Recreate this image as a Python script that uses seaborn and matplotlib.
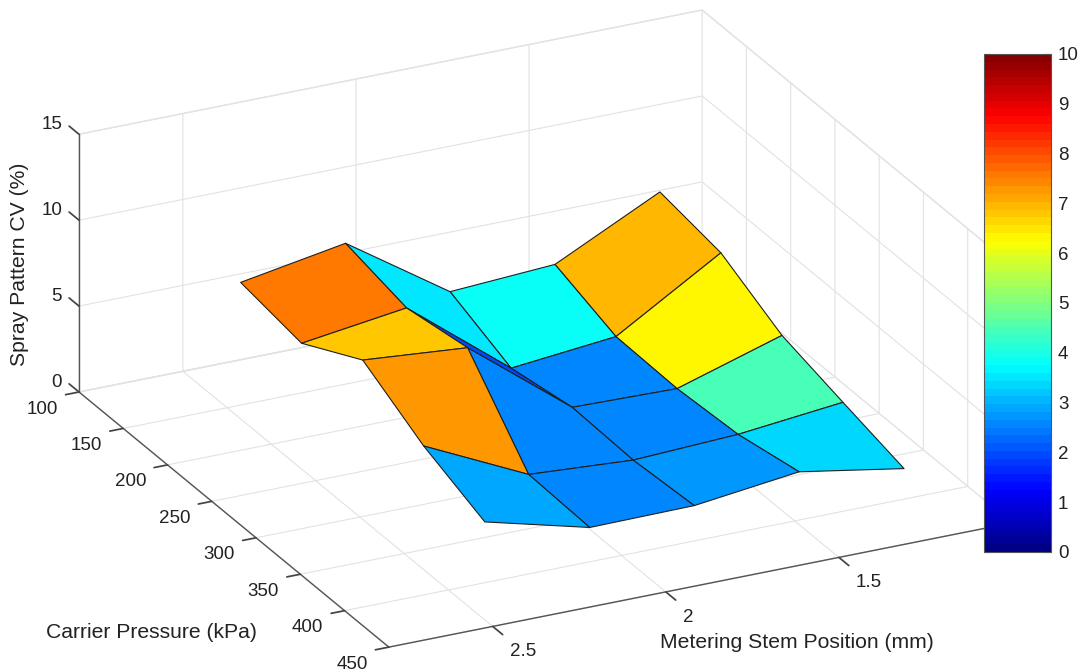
import numpy as np
import matplotlib
matplotlib.use("Agg")
import matplotlib.pyplot as plt
import seaborn as sns
from matplotlib.cm import ScalarMappable
from matplotlib.colors import ListedColormap, Normalize
from mpl_toolkits.mplot3d import proj3d

stem_positions = [1.219, 1.522, 1.825, 2.127, 2.430]
carrier_pressures = [137.9, 206.8, 275.8, 344.7, 413.7]
cv_p138 = [6.90, 3.90, 3.53, 7.56, 6.50]
cv_p207 = [6.28, 2.62, 2.00, 6.72, 5.88]
cv_p276 = [4.40, 2.52, 2.65, 7.33, 7.83]
cv_p345 = [3.43, 2.78, 2.50, 2.88, 5.75]
cv_p414 = [2.50, 3.53, 2.78, 2.72, 4.26]
stem_ticks = [1.5, 2, 2.5]
stem_tick_labels = ["1.5", "2", "2.5"]
pressure_ticks = [100, 150, 200, 250, 300, 350, 400, 450]
cv_ticks = [0, 5, 10, 15]
cbar_ticks = list(range(11))

sns.set_theme(style="white")
plt.rcParams["font.family"] = ["Liberation Sans", "DejaVu Sans"]
INK = "#222222"
TICK_SIZE = 13.5
LABEL_SIZE = 15.2
W, H = 1084, 672
STEM_LIM = (1.0, 2.8)
PRES_LIM = (100, 450)
CV_LIM = (0, 15)

# MATLAB-style jet, 64 bands
_lv = (np.arange(64) + 0.5) / 64
cmap = ListedColormap(np.column_stack([
    np.clip(np.minimum(4 * _lv - 1.5, -4 * _lv + 4.5), 0, 1),
    np.clip(np.minimum(4 * _lv - 0.5, -4 * _lv + 3.5), 0, 1),
    np.clip(np.minimum(4 * _lv + 0.5, -4 * _lv + 2.5), 0, 1),
]))
norm = Normalize(0, 10)

fig = plt.figure(figsize=(W / 100, H / 100), dpi=100, facecolor="white")
ax = fig.add_axes([0.1, 0.1, 0.8, 0.8], projection="3d", proj_type="ortho")
ax.set_xlim(*STEM_LIM, view_margin=0)
ax.set_ylim(*PRES_LIM, view_margin=0)
ax.set_zlim(*CV_LIM, view_margin=0)
ax.view_init(elev=23.9, azim=63.8)
ax.set_box_aspect((694.7, 702, 282))

X, Y = np.meshgrid(stem_positions, carrier_pressures)
Z = np.array([cv_p138, cv_p207, cv_p276, cv_p345, cv_p414])
ax.plot_surface(X, Y, Z, facecolors=cmap(norm(Z)), rstride=1, cstride=1, shade=False,
                edgecolor="#1f1f1f", linewidth=0.8, antialiased=True)

ax.set_xticks(stem_ticks)
ax.set_yticks(pressure_ticks)
ax.set_zticks(cv_ticks)
ax.set_xticklabels([])
ax.set_yticklabels([])
ax.set_zticklabels([])
ax.tick_params(axis="both", colors="#444444")
for axis in (ax.xaxis, ax.yaxis, ax.zaxis):
    axis.set_pane_color((1, 1, 1, 1))
    axis.pane.set_edgecolor("#e4e4e4")
    axis.line.set_color("#555555")
    axis.line.set_linewidth(1.0)
    axis._axinfo["grid"].update(color="#e2e2e2", linewidth=0.8)
ax.xaxis._axinfo["tick"].update(inward_factor=0.4, outward_factor=0.0)
ax.yaxis._axinfo["tick"].update(inward_factor=0.27, outward_factor=0.0)
ax.zaxis._axinfo["tick"].update(inward_factor=0.0, outward_factor=0.4)
ax.zaxis._get_tickdir = lambda position: 1  # z ticks run along the pressure axis
ax.grid(True)


def corner(x, y, z):
    px, py, _ = proj3d.proj_transform(x, y, z, ax.get_proj())
    return ax.transData.transform((px, py))


# fit the axes box so the box corners land where the reference has them
side, x0, y0 = 800.0, 140.0, 0.0
for _ in range(3):
    ax.set_position([x0 / W, y0 / H, side / W, side / H])
    ax.apply_aspect()
    a = corner(STEM_LIM[1], PRES_LIM[0], 0)
    b = corner(STEM_LIM[0], PRES_LIM[1], 0)
    side *= (1012 - 79) / (b[0] - a[0])
    ax.set_position([x0 / W, y0 / H, side / W, side / H])
    ax.apply_aspect()
    a = corner(STEM_LIM[1], PRES_LIM[0], 0)
    x0 += 79 - a[0]
    y0 += (H - 392) - a[1]
ax.set_position([x0 / W, y0 / H, side / W, side / H])
ax.apply_aspect()


def tick_label(x, y, z, s, dx, dy, ha):
    """Text beside a projected tick point, offset in pixels (dy positive = down)."""
    p = corner(x, y, z)
    fig.text((p[0] + dx) / W, (p[1] - dy) / H, s, ha=ha, va="center", fontsize=TICK_SIZE, color=INK)


for t, s in zip(stem_ticks, stem_tick_labels):
    tick_label(t, PRES_LIM[1], 0, s, 17, 25.5, "left")
for t in pressure_ticks:
    tick_label(STEM_LIM[1], t, 0, str(t), -37, 17, "center")
for t in cv_ticks:
    tick_label(STEM_LIM[1], PRES_LIM[0], t, str(t), -17, -10, "right")

cax = fig.add_axes([984 / W, 1 - 552 / H, 67 / W, 498 / H])
cb = fig.colorbar(ScalarMappable(norm=norm, cmap=cmap), cax=cax, ticks=cbar_ticks)
cb.ax.tick_params(direction="in", length=4, width=0.8, left=True, right=True,
                  labelsize=TICK_SIZE, labelcolor=INK, color="#444444", pad=5)
cb.outline.set_edgecolor("#555555")
cb.outline.set_linewidth(0.8)

fig.text(46 / W, 1 - 632 / H, "Carrier Pressure (kPa)", fontsize=LABEL_SIZE, color=INK, ha="left", va="center")
fig.text(660 / W, 1 - 642 / H, "Metering Stem Position (mm)", fontsize=LABEL_SIZE, color=INK, ha="left", va="center")
fig.text(20 / W, 1 - 264 / H, "Spray Pattern CV (%)", fontsize=LABEL_SIZE, color=INK, rotation=90, ha="center", va="center")

fig.savefig("out.png", dpi=100, facecolor="white")
